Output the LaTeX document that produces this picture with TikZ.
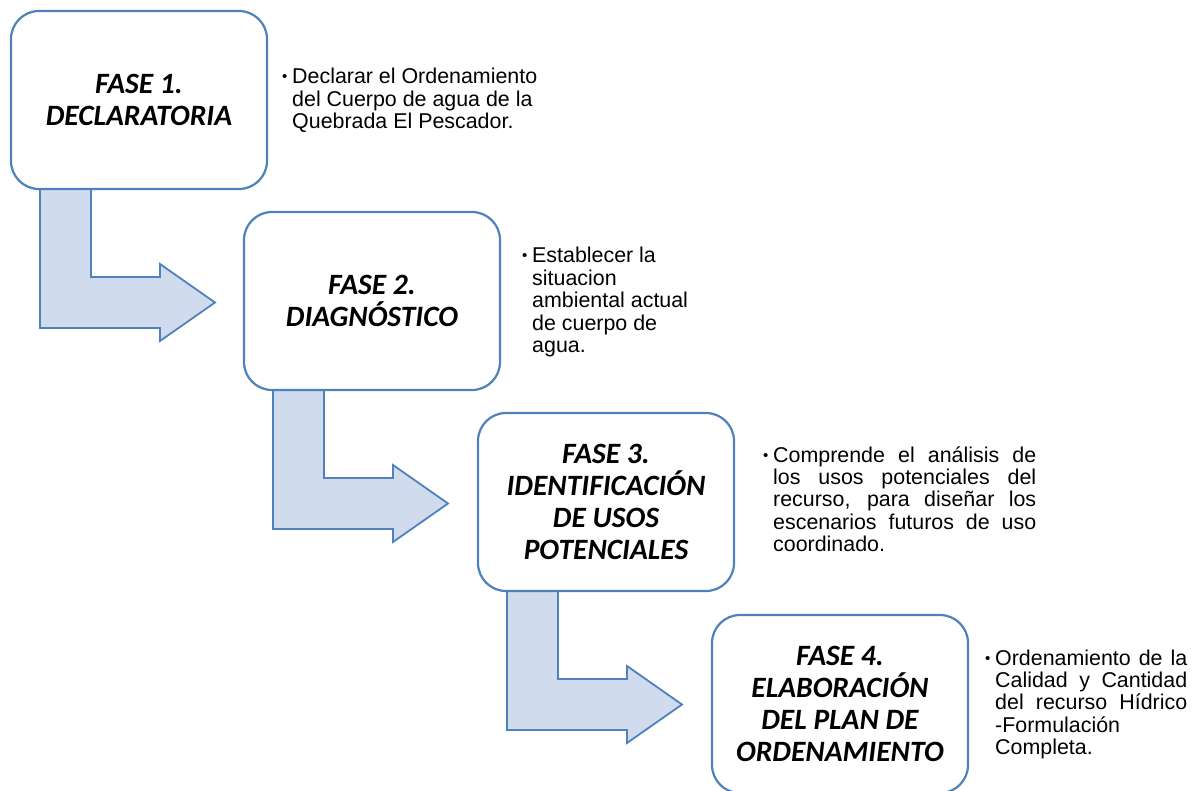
\documentclass[tikz,border=0pt]{standalone}
\usepackage{fontspec}
\usetikzlibrary{calc}
\setmainfont{Carlito}
\newfontfamily\arialfont{Liberation Sans}
\definecolor{boxblue}{RGB}{79,129,189}
\definecolor{arrowfill}{RGB}{208,219,238}
\begin{document}
\begin{tikzpicture}[x=1pt,y=-1pt,
  phasebox/.style={draw=boxblue, line width=2.2pt, fill=white, rounded corners=28pt,
    minimum width=256pt, minimum height=178pt, inner sep=0pt, align=center,
    font=\fontsize{29.5}{32}\selectfont\bfseries\itshape},
  bentarrow/.style={draw=boxblue, line width=1.8pt, fill=arrowfill, line join=miter},
  bulletdot/.style={anchor=base west, inner sep=0pt, font=\arialfont\fontsize{15}{22.5}\selectfont},
  desc/.style={anchor=base west, inner sep=0pt, font=\arialfont\fontsize{21.4}{22.4}\selectfont}
]
\useasboundingbox (0,0) rectangle (1194,791);

% phase boxes (positions)
\coordinate (c1) at (139,100);
\coordinate (c2) at (372,301);
\coordinate (c3) at (606,502);
\coordinate (c4) at (840,704);

% bent arrows (drawn first, boxes on top)
\foreach \c in {c1,c2,c3}{
  \draw[bentarrow] ($(\c)+(-99,89)$) -- ++(0,139) -- ++(120,0) -- ++(0,13)
     -- ++(55,-38.5) -- ++(-55,-38.5) -- ++(0,13) -- ++(-69,0) -- ++(0,-88) -- cycle;
}

\node[phasebox] (b1) at (c1) {FASE 1.\\DECLARATORIA};
\node[phasebox] (b2) at (c2) {FASE 2.\\DIAGNÓSTICO};
\node[phasebox] (b3) at (c3) {FASE 3.\\IDENTIFICACIÓN\\DE USOS\\POTENCIALES};
\node[phasebox] (b4) at (c4) {FASE 4.\\ELABORACIÓN\\DEL PLAN DE\\ORDENAMIENTO};

% descriptions
\node[bulletdot] (d1b) at (282,82) {•};
\node[desc] (d1) at (292,84) {\begin{minipage}[t]{260pt}\raggedright
Declarar el Ordenamiento\\del Cuerpo de agua de la\\Quebrada El Pescador.\end{minipage}};

\node[bulletdot] (d2b) at (522,261) {•};
\node[desc] (d2) at (532,263) {\begin{minipage}[t]{200pt}\raggedright
Establecer la\\situacion\\ambiental actual\\de cuerpo de\\agua.\end{minipage}};

\node[bulletdot] (d3b) at (763,460) {•};
\node[desc] (d3) at (773,462) {\begin{minipage}[t]{263pt}\raggedright
\makebox[\linewidth][s]{Comprende el análisis de}\\
\makebox[\linewidth][s]{los usos potenciales del}\\
\makebox[\linewidth][s]{recurso, para diseñar los}\\
\makebox[\linewidth][s]{escenarios futuros de uso}\\
coordinado.\end{minipage}};

\node[bulletdot] (d4b) at (985,663) {•};
\node[desc] (d4) at (995,665) {\begin{minipage}[t]{192pt}\raggedright
\makebox[\linewidth][s]{Ordenamiento de la}\\
\makebox[\linewidth][s]{Calidad y Cantidad}\\
\makebox[\linewidth][s]{del recurso Hídrico}\\
-Formulación\\Completa.\end{minipage}};
\end{tikzpicture}
\end{document}
